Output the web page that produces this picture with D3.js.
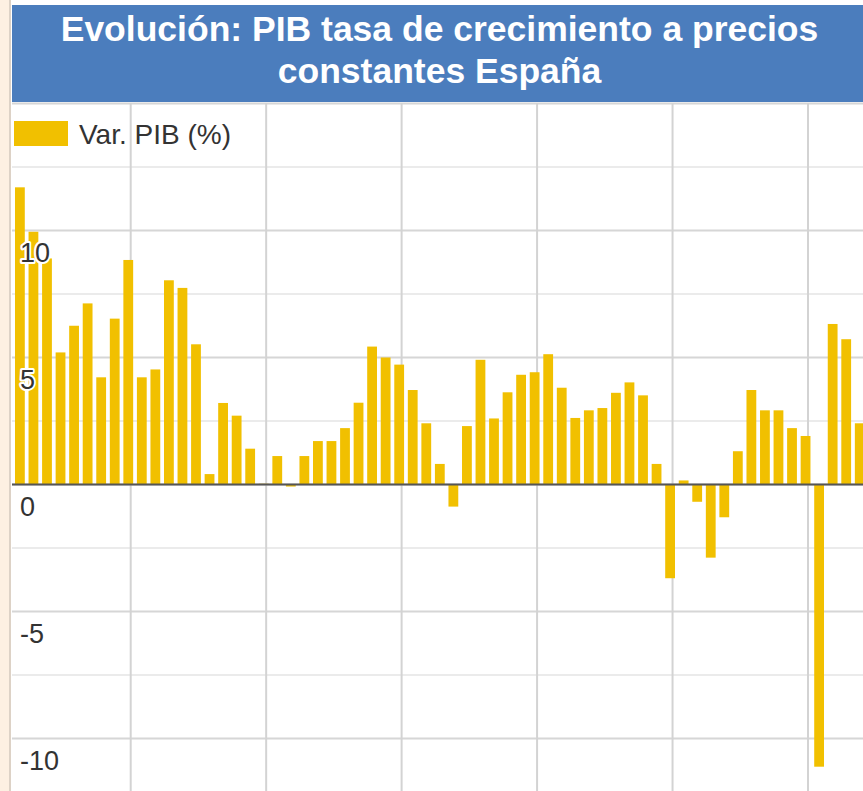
<!DOCTYPE html>
<html>
<head>
<meta charset="utf-8">
<script src="https://cdn.jsdelivr.net/npm/d3@7"></script>
<style>
  body { margin: 0; background: #fff; }
  svg { display: block; font-family: "Liberation Sans", Arial, sans-serif; }
</style>
</head>
<body>
<svg id="chart"></svg>
<script>
// Var. PIB (%) España, 1961 - 2023
const years = d3.range(1961, 2024);
const growth = [
  11.7, 9.95, 8.9, 5.2, 6.25, 7.13, 4.22, 6.53, 8.84, 4.22,
  4.53, 8.04, 7.74, 5.52, 0.41, 3.21, 2.71, 1.41, 0.03, 1.12,
  -0.08, 1.12, 1.71, 1.71, 2.22, 3.22, 5.43, 5.0, 4.72, 3.72,
  2.41, 0.81, -0.87, 2.3, 4.91, 2.6, 3.63, 4.32, 4.42, 5.13,
  3.81, 2.62, 2.92, 3.01, 3.61, 4.02, 3.51, 0.81, -3.69, 0.16,
  -0.68, -2.88, -1.29, 1.31, 3.72, 2.92, 2.92, 2.22, 1.91, -11.11,
  6.32, 5.72, 2.41
];
const decadeTicks = [1970, 1980, 1990, 2000, 2010, 2020];
const majorTicks = [-10, -5, 0, 5, 10, 15];
const minorTicks = [-7.5, -2.5, 2.5, 7.5, 12.5];
const tickLabels = [10, 5, 0, -5, -10];
const titleLines = ["Evolución: PIB tasa de crecimiento a precios", "constantes España"];
const seriesName = "Var. PIB (%)";

const data = years.map((y, i) => ({ year: y, value: growth[i] }));

const config = {
  width: 863,
  height: 791,
  plotLeft: 12,
  plotTop: 103,
  headerTop: 5,
  headerBottom: 102
};

const svg = d3.select('#chart')
  .attr('width', config.width)
  .attr('height', config.height);

// scales
const xScale = d3.scaleLinear()
  .domain([1970, 2020])
  .range([130.7, 808]);
const yScale = d3.scaleLinear()
  .domain([0, 10])
  .range([484.5, 230.5]);
const yearStep = xScale(1971) - xScale(1970);
const barOffset = 0.82 * yearStep;
const barWidth = 9.8;

// left strip
svg.append('rect')
  .attr('x', 0).attr('y', 0)
  .attr('width', 9).attr('height', config.height)
  .attr('fill', '#fdf0e2');
svg.append('line')
  .attr('x1', 10).attr('x2', 10)
  .attr('y1', 0).attr('y2', config.height)
  .attr('stroke', '#ddd2c6')
  .attr('stroke-width', 2);

const chart = svg.append('g');

// gridlines
chart.selectAll('.grid-minor')
  .data(minorTicks)
  .join('line')
  .attr('class', 'grid-minor')
  .attr('x1', config.plotLeft).attr('x2', config.width)
  .attr('y1', d => yScale(d)).attr('y2', d => yScale(d))
  .attr('stroke', '#ebebeb')
  .attr('stroke-width', 2);

chart.selectAll('.grid-major')
  .data(majorTicks)
  .join('line')
  .attr('class', 'grid-major')
  .attr('x1', config.plotLeft).attr('x2', config.width)
  .attr('y1', d => yScale(d)).attr('y2', d => yScale(d))
  .attr('stroke', '#d6d6d6')
  .attr('stroke-width', 2);

chart.selectAll('.grid-x')
  .data(decadeTicks)
  .join('line')
  .attr('class', 'grid-x')
  .attr('x1', d => xScale(d)).attr('x2', d => xScale(d))
  .attr('y1', config.plotTop).attr('y2', config.height)
  .attr('stroke', '#d3d3d3')
  .attr('stroke-width', 2);

// bars
chart.selectAll('.bar')
  .data(data)
  .join('rect')
  .attr('class', 'bar')
  .attr('x', d => xScale(d.year) + barOffset - barWidth / 2)
  .attr('width', barWidth)
  .attr('y', d => yScale(Math.max(0, d.value)))
  .attr('height', d => Math.abs(yScale(d.value) - yScale(0)))
  .attr('fill', '#f1c000');

// zero line
chart.append('line')
  .attr('x1', config.plotLeft).attr('x2', config.width)
  .attr('y1', yScale(0)).attr('y2', yScale(0))
  .attr('stroke', '#555')
  .attr('stroke-width', 2);

// y labels with white halo
chart.selectAll('.y-label')
  .data(tickLabels)
  .join('text')
  .attr('class', 'y-label')
  .attr('x', 20)
  .attr('y', d => yScale(d) + 31)
  .attr('font-size', '27px')
  .attr('fill', '#333')
  .attr('stroke', '#fff')
  .attr('stroke-width', 4)
  .attr('stroke-linejoin', 'round')
  .attr('paint-order', 'stroke')
  .text(d => d);

// legend
const legend = svg.append('g');
legend.append('rect')
  .attr('x', 14).attr('y', 121)
  .attr('width', 54).attr('height', 25)
  .attr('fill', '#f1c000');
legend.append('text')
  .attr('x', 79).attr('y', 143.5)
  .attr('font-size', '28px')
  .attr('fill', '#333')
  .text(seriesName);

// header
svg.append('rect')
  .attr('x', config.plotLeft).attr('y', config.headerTop)
  .attr('width', config.width - config.plotLeft)
  .attr('height', config.headerBottom - config.headerTop)
  .attr('fill', '#4b7dbd');
svg.selectAll('.title')
  .data(titleLines)
  .join('text')
  .attr('class', 'title')
  .attr('x', (config.plotLeft + config.width) / 2 + 2)
  .attr('y', (d, i) => 41 + i * 42)
  .attr('text-anchor', 'middle')
  .attr('font-size', '35.5px')
  .attr('font-weight', 'bold')
  .attr('fill', '#fff')
  .text(d => d);
</script>
</body>
</html>
